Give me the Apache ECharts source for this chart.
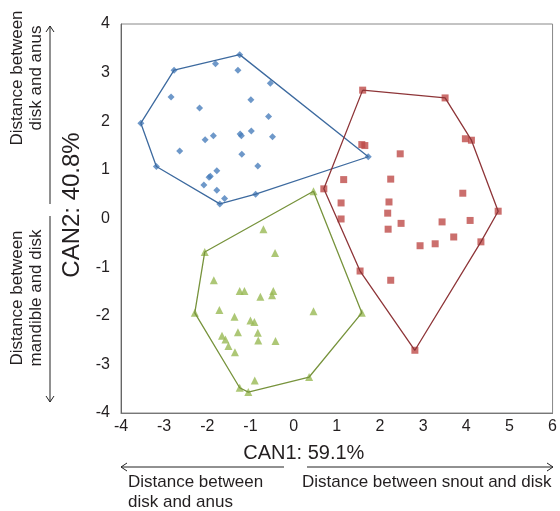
<!DOCTYPE html>
<html>
<head>
<meta charset="utf-8">
<script src="https://cdn.jsdelivr.net/npm/echarts@6/dist/echarts.min.js"></script>
<style>
  html, body { margin: 0; padding: 0; background: #fff; }
  #chart { width: 560px; height: 511px; }
</style>
</head>
<body>
<div id="chart"></div>
<script>
// group 1 (blue diamonds)
var bluePts = [
  [-1.25, 3.37], [-1.81, 3.18], [-2.77, 3.05], [-1.29, 3.05], [-0.54, 2.78],
  [-2.84, 2.50], [-0.99, 2.44], [-2.18, 2.27], [-0.58, 2.10], [-3.54, 1.96],
  [-1.24, 1.74], [-1.21, 1.70], [-0.98, 1.80], [-1.86, 1.70], [-2.05, 1.62],
  [-0.49, 1.68], [-2.64, 1.39], [-1.20, 1.32], [1.73, 1.27], [-3.18, 1.07],
  [-0.83, 1.08], [-1.78, 0.98], [-1.93, 0.87], [-1.96, 0.85], [-2.08, 0.69],
  [-1.78, 0.58], [-1.60, 0.41], [-0.88, 0.50], [-1.71, 0.30]
];
var blueHull = [0, 18, 27, 28, 19, 9, 2, 0];

// group 2 (red squares)
var redPts = [
  [1.60, 2.64], [3.51, 2.48], [3.98, 1.64], [4.12, 1.61], [1.58, 1.52],
  [1.65, 1.50], [2.47, 1.33], [1.16, 0.80], [2.25, 0.81], [0.70, 0.61],
  [3.92, 0.52], [1.10, 0.32], [2.21, 0.34], [4.74, 0.15], [2.18, 0.11],
  [1.10, -0.01], [2.49, -0.10], [3.44, -0.07], [4.09, -0.04], [2.19, -0.22],
  [3.71, -0.38], [4.34, -0.48], [3.28, -0.52], [2.93, -0.56], [1.54, -1.08],
  [2.25, -1.27], [2.81, -2.71]
];
var redHull = [0, 1, 3, 13, 21, 26, 24, 9, 0];

// group 3 (green triangles)
var greenPts = [
  [0.46, 0.56], [-0.70, -0.22], [-2.06, -0.69], [-0.43, -0.71], [-1.85, -1.27],
  [-1.25, -1.49], [-1.14, -1.49], [-0.47, -1.49], [-0.50, -1.58], [-0.77, -1.61],
  [-2.29, -1.94], [-1.72, -1.88], [0.46, -1.91], [1.58, -1.94], [-1.37, -2.02],
  [-1.00, -2.10], [-0.91, -2.13], [-1.29, -2.34], [-0.83, -2.35], [-1.66, -2.41],
  [-1.58, -2.49], [-0.82, -2.51], [-0.42, -2.52], [-1.51, -2.62], [-1.36, -2.75],
  [-0.90, -3.33], [0.36, -3.26], [-1.25, -3.48], [-1.05, -3.57]
];
var greenHull = [0, 13, 26, 28, 27, 10, 2, 0];

var xName = 'CAN1: 59.1%';
var yName = 'CAN2: 40.8%';

function hullLine(pts, idx) {
    return idx.map(function (i) { return pts[i]; });
}

var chart = echarts.init(document.getElementById('chart'));

var font = '"Liberation Sans", Arial, sans-serif';
var txtColor = '#231f20';
var noteFont = '17px ' + font;

var option = {
    animation: false,
    textStyle: { fontFamily: font },
    grid: {
        left: 121,
        right: 6,
        top: 24,
        bottom: 98,
        show: true,
        borderColor: '#888',
        borderWidth: 1
    },
    xAxis: {
        type: 'value',
        min: -4,
        max: 6,
        interval: 1,
        name: xName,
        nameLocation: 'middle',
        nameGap: 30,
        nameTextStyle: { fontSize: 20, color: txtColor, fontFamily: font, padding: [0, 66, 0, 0] },
        axisLine: { onZero: false, lineStyle: { color: '#777' } },
        axisTick: { show: false },
        splitLine: { show: false },
        axisLabel: { fontSize: 16, color: txtColor, fontFamily: font, margin: 6 }
    },
    yAxis: {
        type: 'value',
        min: -4,
        max: 4,
        interval: 1,
        name: yName,
        nameLocation: 'middle',
        nameGap: 35,
        nameTextStyle: { fontSize: 24, color: txtColor, fontFamily: font, padding: [0, 0, 0, 27] },
        axisLine: { onZero: false, lineStyle: { color: '#666' } },
        axisTick: { show: false },
        splitLine: { show: false },
        axisLabel: { fontSize: 16, color: txtColor, fontFamily: font, margin: 11, padding: [0, 0, 8, 0] }
    },
    series: [
        {
            type: 'line',
            data: hullLine(bluePts, blueHull),
            showSymbol: false,
            lineStyle: { color: '#3D6A9F', width: 1.3 },
            silent: true
        },
        {
            type: 'line',
            data: hullLine(redPts, redHull),
            showSymbol: false,
            lineStyle: { color: '#8E3538', width: 1.3 },
            silent: true
        },
        {
            type: 'line',
            data: hullLine(greenPts, greenHull),
            showSymbol: false,
            lineStyle: { color: '#77933C', width: 1.3 },
            silent: true
        },
        {
            type: 'scatter',
            data: bluePts,
            symbol: 'diamond',
            symbolSize: 7,
            itemStyle: { color: '#4A7EBB' }
        },
        {
            type: 'scatter',
            data: redPts,
            symbol: 'rect',
            symbolSize: 7,
            itemStyle: { color: '#BE4B48' }
        },
        {
            type: 'scatter',
            data: greenPts,
            symbol: 'triangle',
            symbolSize: 8,
            itemStyle: { color: '#98B954' }
        }
    ],
    graphic: [
        // left: upper arrow and text
        { type: 'polyline', shape: { points: [[50, 204], [50, 26]] }, style: { stroke: '#222', lineWidth: 1 } },
        { type: 'polyline', shape: { points: [[46, 32], [50, 26], [54, 32]] }, style: { stroke: '#222', lineWidth: 1, fill: null } },
        { type: 'text', x: 17, y: 78, rotation: Math.PI / 2,
          style: { text: 'Distance between', font: noteFont, fill: txtColor, align: 'center', verticalAlign: 'middle' } },
        { type: 'text', x: 36, y: 78, rotation: Math.PI / 2,
          style: { text: 'disk and anus', font: noteFont, fill: txtColor, align: 'center', verticalAlign: 'middle' } },
        // left: lower arrow and text
        { type: 'polyline', shape: { points: [[50, 216], [50, 402]] }, style: { stroke: '#222', lineWidth: 1 } },
        { type: 'polyline', shape: { points: [[46, 396], [50, 402], [54, 396]] }, style: { stroke: '#222', lineWidth: 1, fill: null } },
        { type: 'text', x: 17, y: 298, rotation: Math.PI / 2,
          style: { text: 'Distance between', font: noteFont, fill: txtColor, align: 'center', verticalAlign: 'middle' } },
        { type: 'text', x: 36, y: 298, rotation: Math.PI / 2,
          style: { text: 'mandible and disk', font: noteFont, fill: txtColor, align: 'center', verticalAlign: 'middle' } },
        // bottom arrows and text
        { type: 'polyline', shape: { points: [[121, 467], [284, 467]] }, style: { stroke: '#222', lineWidth: 1 } },
        { type: 'polyline', shape: { points: [[127, 463], [121, 467], [127, 471]] }, style: { stroke: '#222', lineWidth: 1, fill: null } },
        { type: 'polyline', shape: { points: [[307, 467], [553, 467]] }, style: { stroke: '#222', lineWidth: 1 } },
        { type: 'polyline', shape: { points: [[547, 463], [553, 467], [547, 471]] }, style: { stroke: '#222', lineWidth: 1, fill: null } },
        { type: 'text', x: 128, y: 482,
          style: { text: 'Distance between', font: noteFont, fill: txtColor, verticalAlign: 'middle' } },
        { type: 'text', x: 128, y: 502,
          style: { text: 'disk and anus', font: noteFont, fill: txtColor, verticalAlign: 'middle' } },
        { type: 'text', x: 302, y: 482,
          style: { text: 'Distance between snout and disk', font: noteFont, fill: txtColor, verticalAlign: 'middle' } }
    ]
};

chart.setOption(option);
</script>
</body>
</html>
